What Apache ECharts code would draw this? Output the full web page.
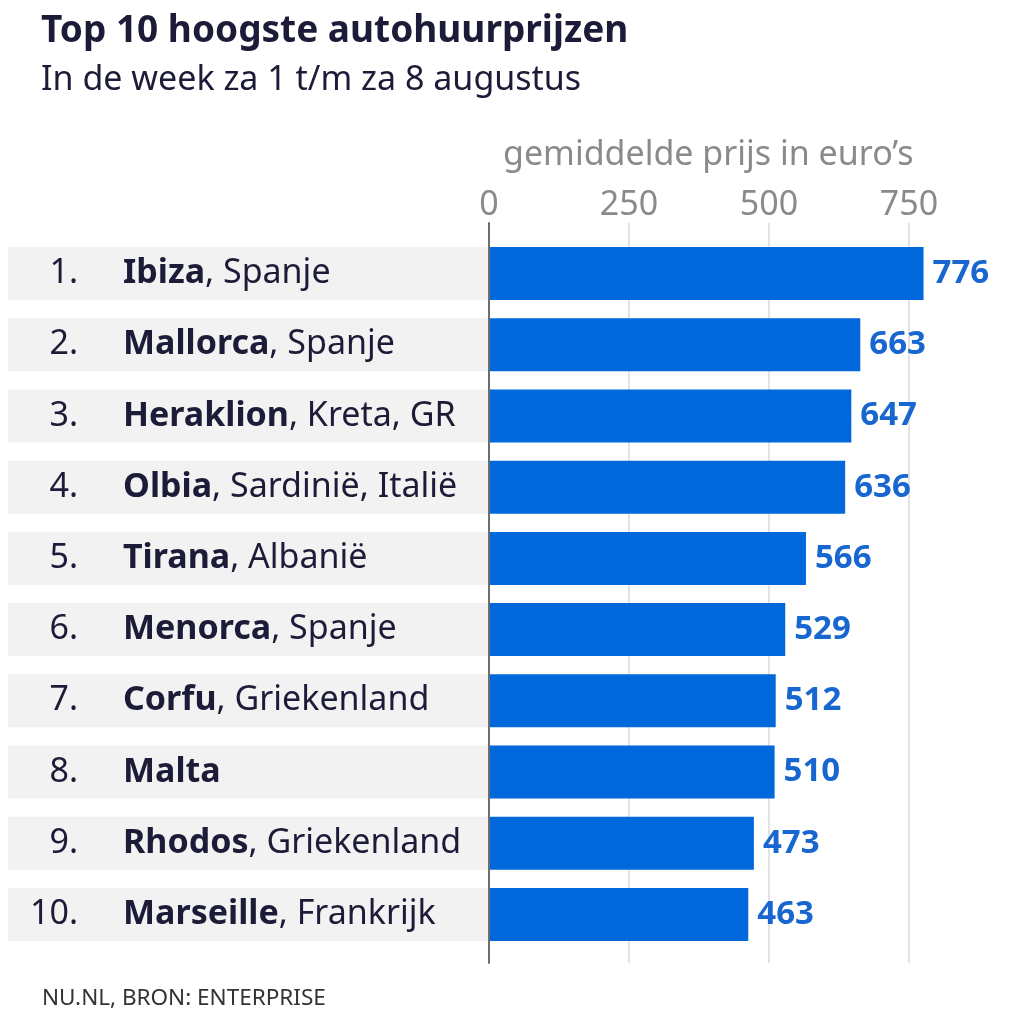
<!DOCTYPE html>
<html>
<head>
<meta charset="UTF-8">
<title>Top 10 hoogste autohuurprijzen</title>
<script type="text/javascript" src="https://cdn.jsdelivr.net/npm/echarts@6/dist/echarts.min.js"></script>
<style>
	html, body { margin: 0; padding: 0; background: #fff; }
	#main { width: 1024px; height: 1024px; }
</style>
</head>
<body>
	<div id="main"></div>
</body>
<script type="text/javascript">
	// gegevens
	var ranks = ['1.', '2.', '3.', '4.', '5.', '6.', '7.', '8.', '9.', '10.'];
	var cities = ['Ibiza', 'Mallorca', 'Heraklion', 'Olbia', 'Tirana', 'Menorca', 'Corfu', 'Malta', 'Rhodos', 'Marseille'];
	var regions = ['Spanje', 'Spanje', 'Kreta, GR', 'Sardinië, Italië', 'Albanië', 'Spanje', 'Griekenland', '', 'Griekenland', 'Frankrijk'];
	var prices = [776, 663, 647, 636, 566, 529, 512, 510, 473, 463];
	var xTicks = [0, 250, 500, 750];

	var font = 'Noto Sans';
	var navy = '#1c1c38';
	var fs = 34;

	var myChart = echarts.init(document.getElementById('main'));

	option = {
		backgroundColor: '#ffffff',
		textStyle: { fontFamily: font },
		title: [{
			text: 'Top 10 hoogste autohuurprijzen',
			left: 41, top: 13, padding: 0,
			textStyle: { fontFamily: font, fontSize: 37, fontWeight: 'bold', color: navy }
		}, {
			text: 'In de week za 1 t/m za 8 augustus',
			left: 41, top: 63, padding: 0,
			textStyle: { fontFamily: font, fontSize: 34, fontWeight: 'normal', color: navy }
		}, {
			text: 'gemiddelde prijs in euro’s',
			left: 503, top: 138, padding: 0,
			textStyle: { fontFamily: font, fontSize: 34, fontWeight: 'normal', color: '#8a8a8a' }
		}, {
			text: 'NU.NL, BRON: ENTERPRISE',
			left: 42, top: 987, padding: 0,
			textStyle: { fontFamily: font, fontSize: 22.5, fontWeight: 'normal', color: '#333333' }
		}],
		grid: [
			// raster met as en hulplijnen
			{ left: 489, top: 223, width: 448, height: 740 },
			// staven
			{ left: 489, top: 238, width: 448, height: 712 }
		],
		xAxis: [{
			gridIndex: 0,
			type: 'value',
			position: 'top',
			min: 0, max: 800, interval: 250,
			axisLine: { show: false },
			axisTick: { show: false },
			splitLine: { show: true, showMaxLine: false, lineStyle: { color: '#dadada', width: 1.5 } },
			axisLabel: {
				margin: 1,
				showMaxLabel: false,
				fontFamily: font, fontSize: 34, color: '#8a8a8a',
				formatter: function (v) { return xTicks.indexOf(v) >= 0 ? String(v) : ''; }
			}
		}, {
			gridIndex: 1,
			type: 'value',
			min: 0, max: 800,
			show: false
		}],
		yAxis: [{
			gridIndex: 0,
			type: 'value',
			min: 0, max: 1,
			z: 10,
			axisLine: { show: true, lineStyle: { color: '#6e6e6e', width: 2 } },
			axisTick: { show: false },
			splitLine: { show: false },
			axisLabel: { show: false }
		}, {
			gridIndex: 1,
			type: 'category',
			inverse: true,
			data: cities,
			axisLine: { show: false },
			axisTick: { show: false },
			axisLabel: {
				interval: 0,
				margin: 0,
				align: 'right',
				width: 459,
				height: 53,
				lineHeight: 53,
				padding: [0, 0, 0, 22],
				backgroundColor: '#f2f2f2',
				formatter: function (value, idx) {
					var r = ranks[idx];
					var s = r.length < 3 ? '{p| }{r1|' + r + '}' : '{r2|' + r + '}';
					s += '{b|' + value + '}';
					if (regions[idx]) s += '{n|, ' + regions[idx] + '}';
					return s;
				},
				rich: {
					p: { width: 19.5, align: 'left', fontFamily: font, fontSize: fs, color: navy, lineHeight: 53 },
					r1: { width: 73.5, align: 'left', fontFamily: font, fontSize: fs, color: navy, lineHeight: 53 },
					r2: { width: 93, align: 'left', fontFamily: font, fontSize: fs, color: navy, lineHeight: 53 },
					b: { align: 'left', fontFamily: font, fontSize: fs, fontWeight: 'bold', color: navy, lineHeight: 53 },
					n: { align: 'left', fontFamily: font, fontSize: fs, color: navy, lineHeight: 53 }
				}
			}
		}],
		series: [{
			type: 'bar',
			xAxisIndex: 1,
			yAxisIndex: 1,
			data: prices,
			barWidth: 53,
			itemStyle: { color: '#0068db' },
			label: {
				show: true,
				position: 'right',
				distance: 9,
				fontFamily: font,
				fontSize: 33,
				fontWeight: 'bold',
				color: '#1866cf'
			},
			silent: true,
			animation: false
		}],
		animation: false
	};
	myChart.setOption(option);
</script>
</html>
